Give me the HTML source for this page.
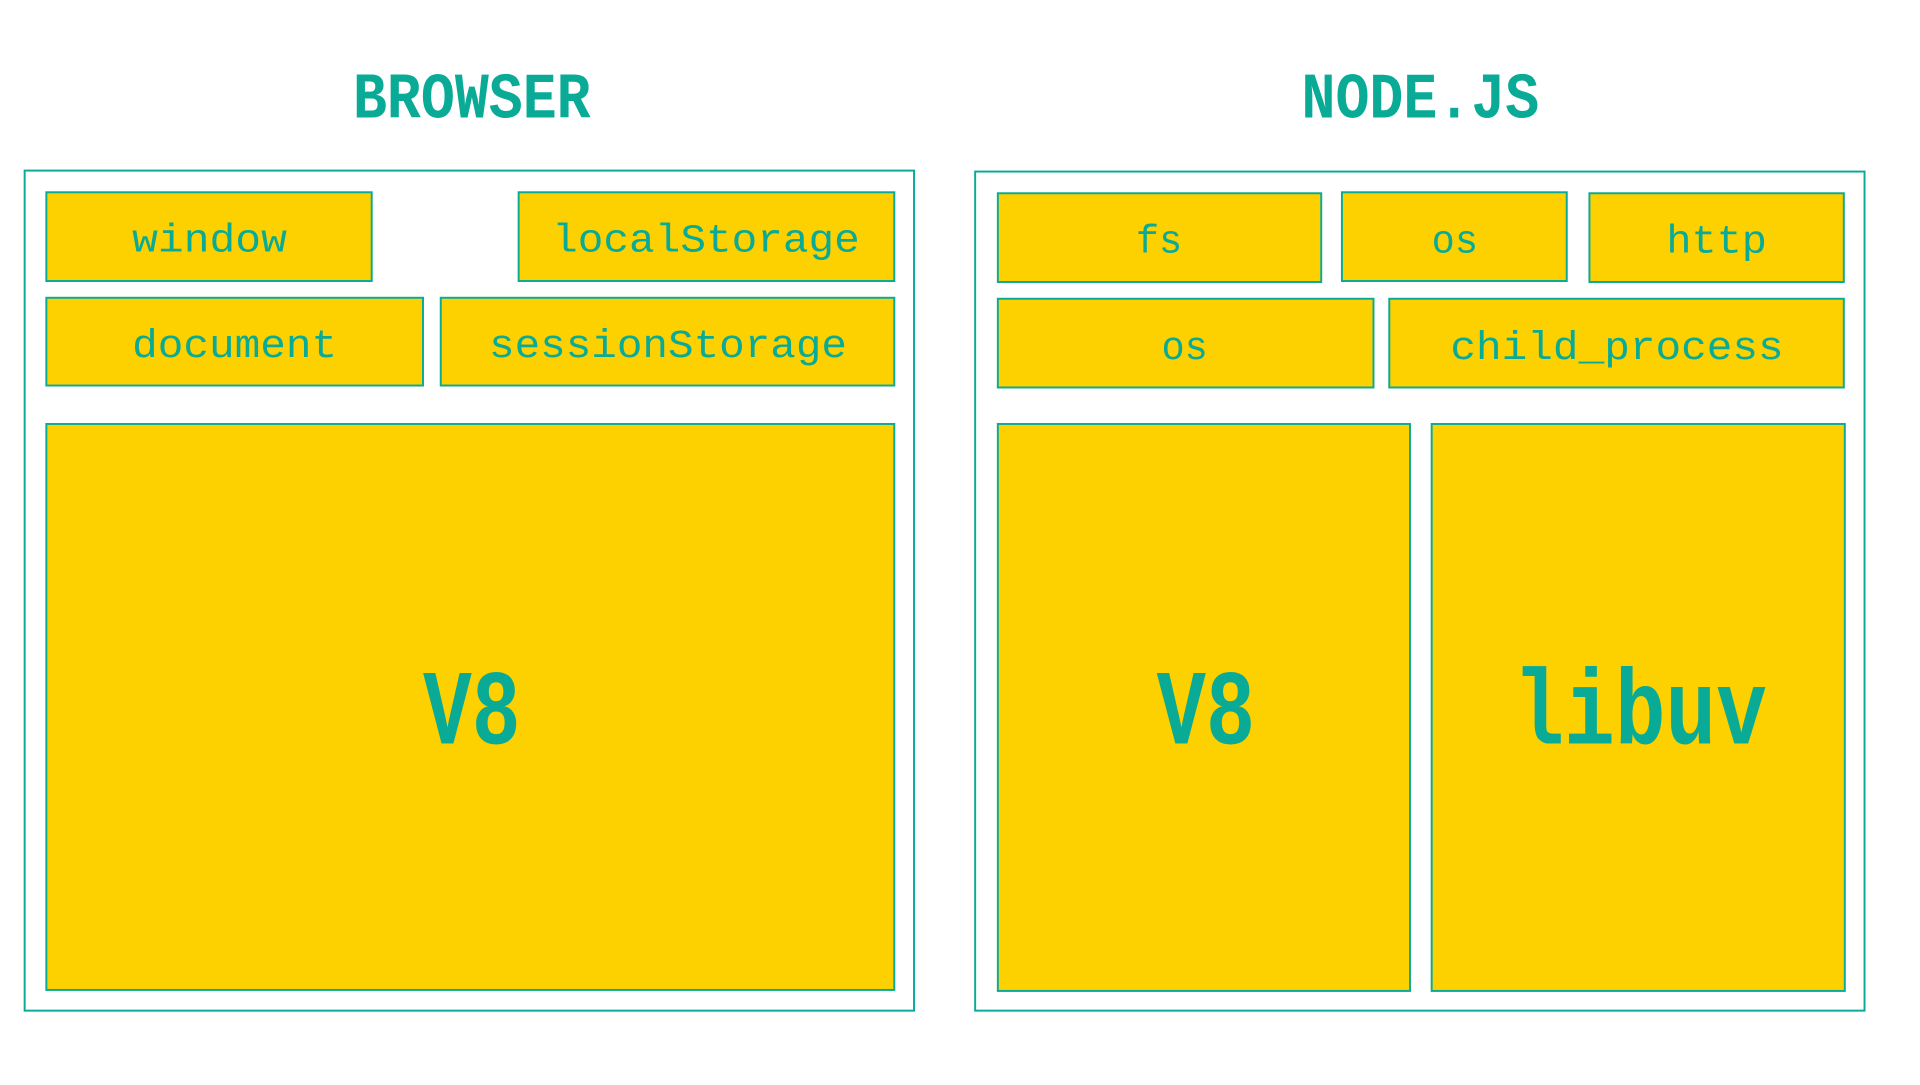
<!DOCTYPE html>
<html><head><style>html,body{margin:0;padding:0;background:#fff;}</style></head>
<body>
<svg width="1920" height="1080" viewBox="0 0 1920 1080" xmlns="http://www.w3.org/2000/svg">
<g transform="scale(0.986)">
<g fill="none" stroke="#0aab96" stroke-width="2">
<rect x="25" y="173" width="902" height="852"/>
<rect x="989" y="174" width="902" height="851"/>
</g>
<g fill="#fdd000" stroke="#0aab96" stroke-width="2">
<rect x="47" y="195" width="330" height="90"/>
<rect x="526" y="195" width="381" height="90"/>
<rect x="47" y="302" width="382" height="89"/>
<rect x="447" y="302" width="460" height="89"/>
<rect x="47" y="430" width="860" height="574"/>
<rect x="1012" y="196" width="328" height="90"/>
<rect x="1361" y="195" width="228" height="90"/>
<rect x="1612" y="196" width="258" height="90"/>
<rect x="1012" y="303" width="381" height="90"/>
<rect x="1409" y="303" width="461" height="90"/>
<rect x="1012" y="430" width="418" height="575"/>
<rect x="1452" y="430" width="419" height="575"/>
</g>
<g font-family="Liberation Mono, DejaVu Sans Mono, monospace" fill="#0aab96">
<text x="358" y="119" font-size="66" font-weight="bold" textLength="241" lengthAdjust="spacingAndGlyphs">BROWSER</text>
<text x="1320" y="119" font-size="66" font-weight="bold" textLength="241" lengthAdjust="spacingAndGlyphs">NODE.JS</text>
<g font-size="40">
<text x="134" y="255" textLength="157" lengthAdjust="spacingAndGlyphs">window</text>
<text x="560" y="255" textLength="312" lengthAdjust="spacingAndGlyphs">localStorage</text>
<text x="134" y="362" textLength="208" lengthAdjust="spacingAndGlyphs">document</text>
<text x="496" y="362" textLength="363" lengthAdjust="spacingAndGlyphs">sessionStorage</text>
<text x="1152" y="256" textLength="47" lengthAdjust="spacingAndGlyphs">fs</text>
<text x="1452" y="256" textLength="47" lengthAdjust="spacingAndGlyphs">os</text>
<text x="1690" y="256" textLength="102" lengthAdjust="spacingAndGlyphs">http</text>
<text x="1178" y="364" textLength="47" lengthAdjust="spacingAndGlyphs">os</text>
<text x="1471" y="364" textLength="338" lengthAdjust="spacingAndGlyphs">child_process</text>
</g>
<g font-size="108" font-weight="bold">
<text x="429" y="754" textLength="99" lengthAdjust="spacingAndGlyphs">V8</text>
<text x="1173" y="754" textLength="100" lengthAdjust="spacingAndGlyphs">V8</text>
<text x="1535" y="754" textLength="257" lengthAdjust="spacingAndGlyphs">libuv</text>
</g>
</g>
</g>
</svg>
</body></html>
